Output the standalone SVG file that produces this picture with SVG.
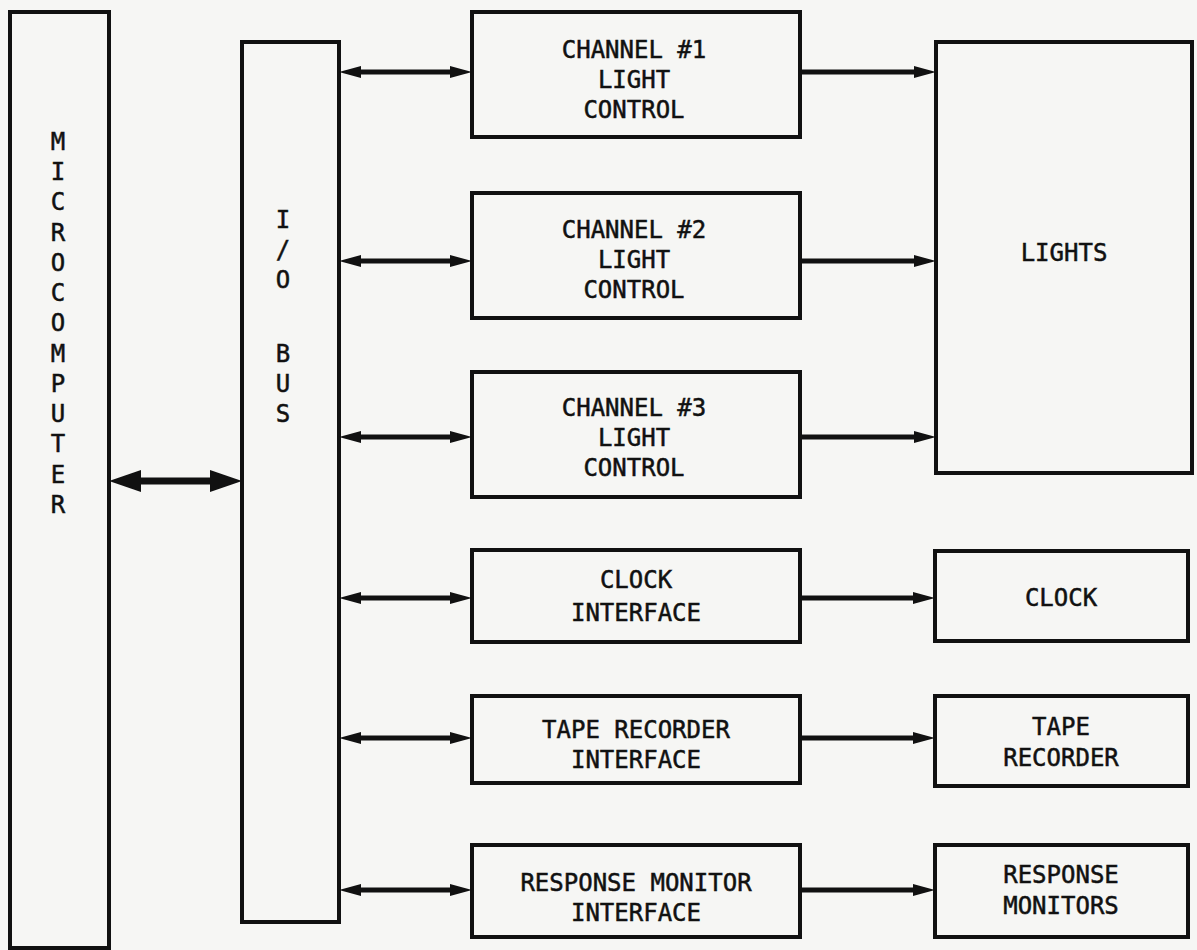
<svg xmlns="http://www.w3.org/2000/svg" width="1197" height="950" viewBox="0 0 1197 950">
<style>
.box{fill:none;stroke:#111;stroke-width:4}
.t{font-family:"DejaVu Sans Mono","Liberation Mono",monospace;font-size:24px;fill:#111;stroke:#111;stroke-width:0.5;text-anchor:middle}
.c{stroke:#111;stroke-width:5;fill:none;marker-end:url(#ah);}
.d{marker-start:url(#ah)}
.big{stroke:#111;stroke-width:7;fill:none;marker-end:url(#ahb);marker-start:url(#ahb)}
</style>
<defs>
<marker id="ah" markerUnits="userSpaceOnUse" markerWidth="22" markerHeight="14" viewBox="0 0 22 14" refX="10" refY="7" orient="auto-start-reverse"><path d="M0,1 L22,7 L0,13 z" fill="#111"/></marker>
<marker id="ahb" markerUnits="userSpaceOnUse" markerWidth="32" markerHeight="24" viewBox="0 0 32 24" refX="14" refY="12" orient="auto-start-reverse"><path d="M0,1 L32,12 L0,23 z" fill="#111"/></marker>
</defs>
<rect width="1197" height="950" fill="#f6f6f4"/>
<g id="microcomputer">
<rect class="box" x="10" y="12" width="99" height="936"/>
<text class="t"><tspan x="58" y="150">M</tspan><tspan x="58" y="180">I</tspan><tspan x="58" y="210">C</tspan><tspan x="58" y="241">R</tspan><tspan x="58" y="271">O</tspan><tspan x="58" y="301">C</tspan><tspan x="58" y="331">O</tspan><tspan x="58" y="362">M</tspan><tspan x="58" y="392">P</tspan><tspan x="58" y="422">U</tspan><tspan x="58" y="452">T</tspan><tspan x="58" y="483">E</tspan><tspan x="58" y="513">R</tspan></text>
</g>
<g id="iobus">
<rect class="box" x="242" y="42" width="97" height="880"/>
<text class="t"><tspan x="283" y="228">I</tspan><tspan x="283" y="258">/</tspan><tspan x="283" y="288">O</tspan><tspan x="283" y="362">B</tspan><tspan x="283" y="392">U</tspan><tspan x="283" y="422">S</tspan></text>
</g>
<g id="ch1">
<rect class="box" x="472" y="12" width="328" height="125"/>
<text class="t"><tspan x="634" y="58">CHANNEL #1</tspan><tspan x="634" y="88">LIGHT</tspan><tspan x="634" y="118">CONTROL</tspan></text>
</g>
<g id="ch2">
<rect class="box" x="472" y="193" width="328" height="125"/>
<text class="t"><tspan x="634" y="238">CHANNEL #2</tspan><tspan x="634" y="268">LIGHT</tspan><tspan x="634" y="298">CONTROL</tspan></text>
</g>
<g id="ch3">
<rect class="box" x="472" y="372" width="328" height="125"/>
<text class="t"><tspan x="634" y="416">CHANNEL #3</tspan><tspan x="634" y="446">LIGHT</tspan><tspan x="634" y="476">CONTROL</tspan></text>
</g>
<g id="clockif">
<rect class="box" x="472" y="550" width="328" height="92"/>
<text class="t"><tspan x="636" y="588">CLOCK</tspan><tspan x="636" y="621">INTERFACE</tspan></text>
</g>
<g id="tapeif">
<rect class="box" x="472" y="696" width="328" height="87"/>
<text class="t"><tspan x="636" y="738">TAPE RECORDER</tspan><tspan x="636" y="768">INTERFACE</tspan></text>
</g>
<g id="respif">
<rect class="box" x="472" y="845" width="328" height="92"/>
<text class="t"><tspan x="636" y="891">RESPONSE MONITOR</tspan><tspan x="636" y="921">INTERFACE</tspan></text>
</g>
<g id="lights">
<rect class="box" x="936" y="42" width="256" height="431"/>
<text class="t" x="1064" y="261">LIGHTS</text>
</g>
<g id="clock">
<rect class="box" x="935" y="551" width="253" height="90"/>
<text class="t" x="1061" y="606">CLOCK</text>
</g>
<g id="tape">
<rect class="box" x="935" y="696" width="253" height="90"/>
<text class="t"><tspan x="1061" y="735">TAPE</tspan><tspan x="1061" y="766">RECORDER</tspan></text>
</g>
<g id="resp">
<rect class="box" x="935" y="845" width="253" height="92"/>
<text class="t"><tspan x="1061" y="883">RESPONSE</tspan><tspan x="1061" y="914">MONITORS</tspan></text>
</g>
<g id="connectors">
<line class="big" x1="127" y1="481" x2="224" y2="481"/>
<line class="c d" x1="351" y1="72" x2="460" y2="72"/>
<line class="c d" x1="351" y1="261" x2="460" y2="261"/>
<line class="c d" x1="351" y1="437" x2="460" y2="437"/>
<line class="c d" x1="351" y1="598" x2="460" y2="598"/>
<line class="c d" x1="351" y1="738" x2="460" y2="738"/>
<line class="c d" x1="351" y1="890" x2="460" y2="890"/>
<line class="c" x1="802" y1="72" x2="924" y2="72"/>
<line class="c" x1="802" y1="261" x2="924" y2="261"/>
<line class="c" x1="802" y1="437" x2="924" y2="437"/>
<line class="c" x1="802" y1="598" x2="923" y2="598"/>
<line class="c" x1="802" y1="738" x2="923" y2="738"/>
<line class="c" x1="802" y1="890" x2="923" y2="890"/>
</g>
</svg>
